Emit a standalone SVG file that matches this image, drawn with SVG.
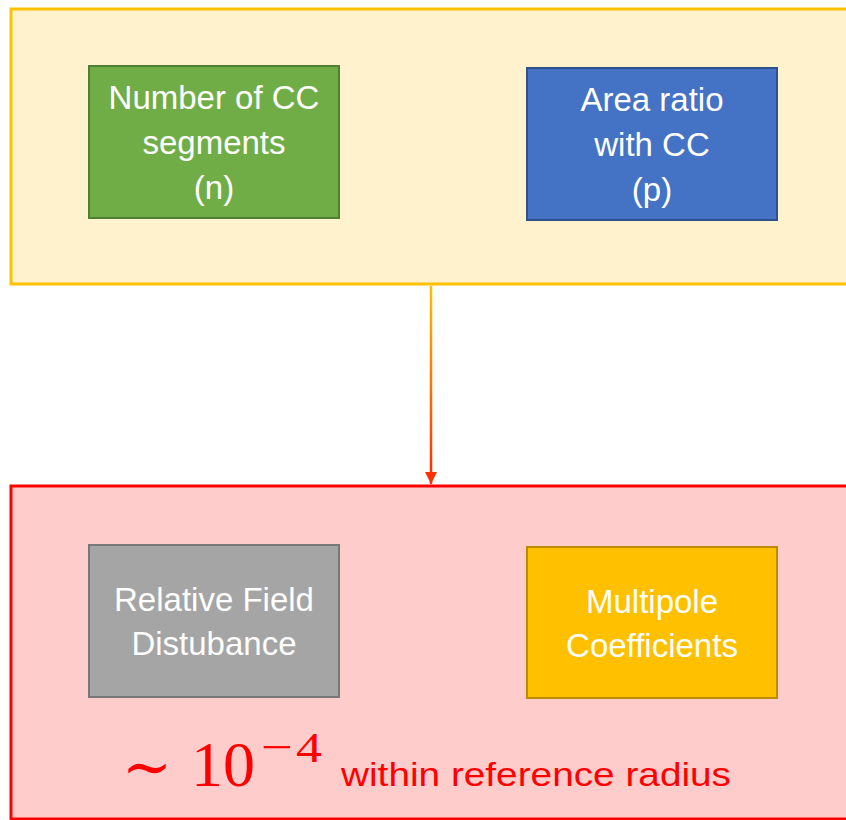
<svg xmlns="http://www.w3.org/2000/svg" width="846" height="820" viewBox="0 0 846 820">
  <style>
    .label { font-family: "Liberation Sans", Arial, sans-serif; font-size: 33px; fill: #ffffff; text-anchor: middle; }
    .node { stroke-width: 2; }
    .math { font-family: "Liberation Serif", "DejaVu Serif", serif; fill: #ff0000; }
    .tilde { font-family: "DejaVu Serif", serif; fill: #ff0000; }
  </style>
  <defs>
    <linearGradient id="flowGrad" gradientUnits="userSpaceOnUse" x1="0" y1="286" x2="0" y2="480">
      <stop offset="0" stop-color="#FFC000"/>
      <stop offset="1" stop-color="#FF2A00"/>
    </linearGradient>
    <marker id="arrowHead" markerWidth="12" markerHeight="12" refX="12" refY="6" orient="auto" markerUnits="userSpaceOnUse">
      <path d="M0,0 L12,6 L0,12 Z" fill="#FF3000"/>
    </marker>
  </defs>

  <rect width="846" height="820" fill="#ffffff"/>

  <!-- input parameters group -->
  <g id="inputs">
    <rect x="11" y="9" width="850" height="275" fill="#FFF2CC" stroke="#FFC000" stroke-width="3"/>
  </g>
  <g id="node-segments">
    <rect class="node" x="89" y="66" width="250" height="152" fill="#70AD47" stroke="#507E32"/>
    <text class="label" x="214" y="109">Number of CC</text>
    <text class="label" x="214" y="154">segments</text>
    <text class="label" x="214" y="199">(n)</text>
  </g>
  <g id="node-area">
    <rect class="node" x="527" y="68" width="250" height="152" fill="#4472C4" stroke="#2F528F"/>
    <text class="label" x="652" y="111">Area ratio</text>
    <text class="label" x="652" y="156">with CC</text>
    <text class="label" x="652" y="201">(p)</text>
  </g>

  <!-- results group -->
  <g id="results">
    <rect x="11" y="486" width="850" height="333" fill="#FFCCCC" stroke="#FF0000" stroke-width="3"/>
    <text class="tilde" x="122" y="788" font-size="62" textLength="50" lengthAdjust="spacingAndGlyphs">∼</text>
    <text class="math" x="191" y="786" font-size="64">10</text>
    <text class="math" x="261" y="762" font-size="44" textLength="32" lengthAdjust="spacingAndGlyphs">−</text>
    <text class="math" x="296" y="762" font-size="43" textLength="26" lengthAdjust="spacingAndGlyphs">4</text>
    <text x="341" y="786" font-family="Liberation Sans, Arial, sans-serif" font-size="34" fill="#ff0000" textLength="390" lengthAdjust="spacingAndGlyphs">within reference radius</text>
  </g>
  <g id="node-disturbance">
    <rect class="node" x="89" y="545" width="250" height="152" fill="#A5A5A5" stroke="#787878"/>
    <text class="label" x="214" y="611">Relative Field</text>
    <text class="label" x="214" y="655">Distubance</text>
  </g>
  <g id="node-multipole">
    <rect class="node" x="527" y="547" width="250" height="151" fill="#FFC000" stroke="#BC8C00"/>
    <text class="label" x="652" y="613">Multipole</text>
    <text class="label" x="652" y="657">Coefficients</text>
  </g>

  <!-- connectors -->
  <g id="connectors">
    <line x1="431" y1="286" x2="431" y2="484" stroke="url(#flowGrad)" stroke-width="2.5" marker-end="url(#arrowHead)"/>
  </g>
</svg>
